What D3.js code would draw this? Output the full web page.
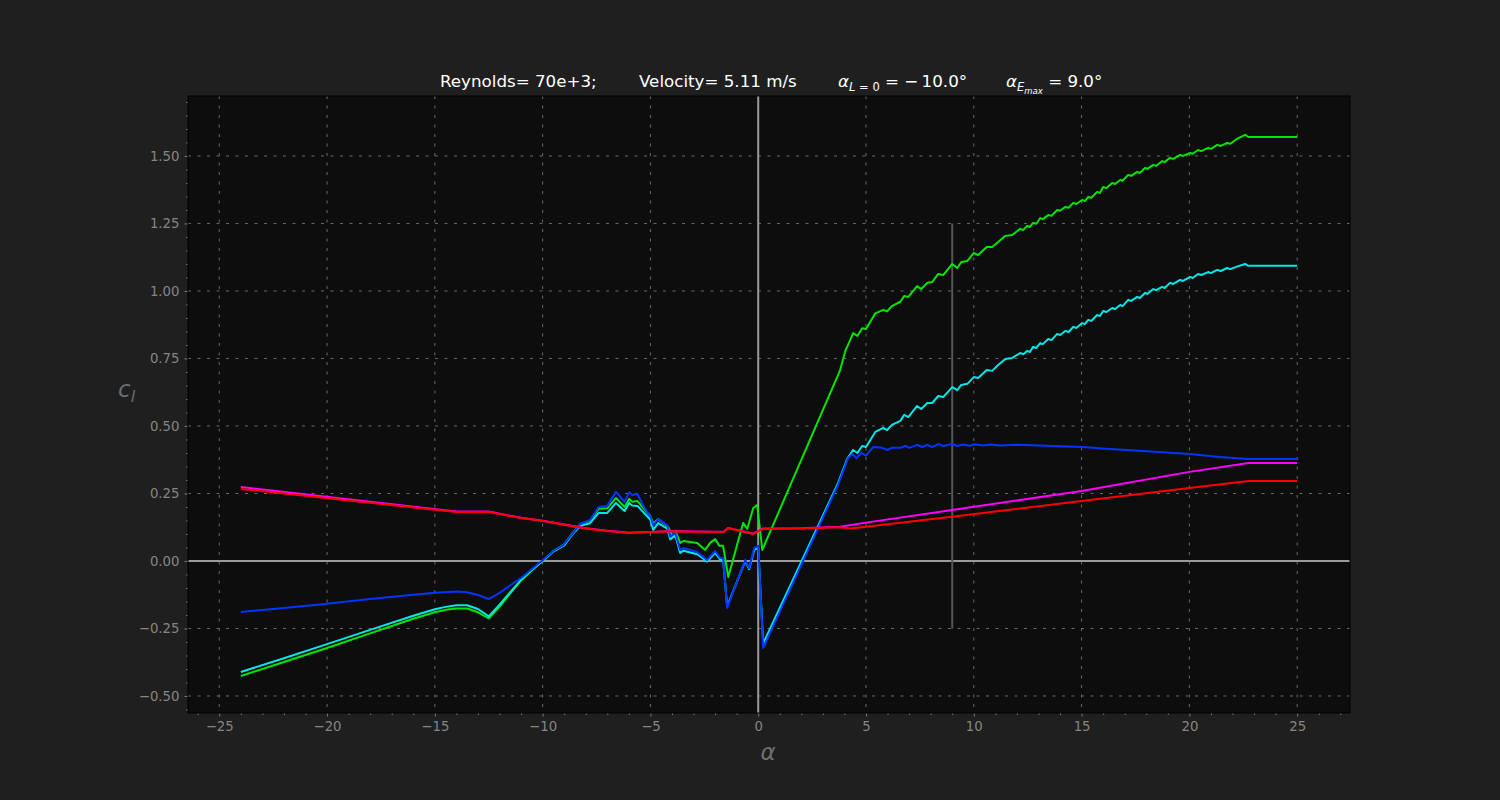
<!DOCTYPE html>
<html>
<head>
<meta charset="utf-8">
<script src="https://cdn.jsdelivr.net/npm/d3@7"></script>
<style>
  body { margin: 0; background: #1f1f1f; }
  text { font-family: "DejaVu Sans", sans-serif; }
</style>
</head>
<body>
<div id="container"></div>
<script>
//DATA
const alphaGreen = [-24, -22, -20, -18, -16, -15, -14.5, -14, -13.5, -13, -12.5, -12, -11.5, -11, -10.5, -10,
  -9.5, -9, -8.6, -8.25, -7.8, -7.4, -7.0, -6.6, -6.2, -5.98, -5.84, -5.6, -5.0, -4.87, -4.64, -4.17, -4.0, -3.8,
  -3.62, -3.47, -2.83, -2.46, -2.23, -2.0, -1.8, -1.63, -1.39, -0.7, -0.51, -0.23, -0.05, 0.19, 3.8, 4.05, 4.27,
  4.4, 4.6, 4.82, 5.0, 5.43, 5.8, 5.98, 6.2, 6.59, 6.77, 6.96, 7.37, 7.56, 7.84, 8.07, 8.35, 8.58, 9.0, 9.23, 9.42,
  9.7, 10.0, 10.2, 10.6, 10.85, 11.13, 11.46, 11.78, 12.15, 12.3, 12.47, 12.6, 12.75, 12.9, 13.08, 13.2, 13.45, 13.6,
  13.87, 14.0, 14.24, 14.4, 14.61, 14.75, 15.03, 15.15, 15.31, 15.45, 15.72, 15.85, 16.0, 16.15, 16.42, 16.55,
  16.79, 16.9, 17.16, 17.3, 17.58, 17.7, 17.95, 18.05, 18.32, 18.45, 18.74, 18.85, 19.1, 19.25, 19.57, 19.7,
  20.04, 20.15, 20.4, 20.55, 20.87, 21.0, 21.29, 21.45, 21.75, 21.9, 22.2, 22.59, 22.73, 25];
const clGreen = [-0.426, -0.374, -0.322, -0.268, -0.214, -0.19, -0.181, -0.176, -0.176, -0.19, -0.213, -0.17, -0.12, -0.072, -0.034, 0.0,
  0.037, 0.062, 0.104, 0.137, 0.15, 0.193, 0.195, 0.233, 0.2, 0.23, 0.219, 0.222, 0.165, 0.14, 0.155, 0.126, 0.096, 0.104,
  0.067, 0.074, 0.067, 0.041, 0.067, 0.081, 0.056, 0.056, -0.059, 0.141, 0.119, 0.196, 0.207, 0.041, 0.707, 0.78, 0.819,
  0.844, 0.833, 0.862, 0.859, 0.917, 0.93, 0.925, 0.944, 0.96, 0.981, 0.978, 1.018, 1.007, 1.03, 1.033, 1.063, 1.059, 1.1, 1.085, 1.107,
  1.111, 1.141, 1.133, 1.163, 1.163, 1.181, 1.204, 1.207, 1.23, 1.226, 1.241, 1.237, 1.252, 1.249, 1.27, 1.266, 1.281, 1.278,
  1.3, 1.297, 1.311, 1.308, 1.326, 1.322, 1.337, 1.333, 1.348, 1.345, 1.367, 1.363, 1.385, 1.381, 1.4, 1.396,
  1.411, 1.408, 1.43, 1.426, 1.441, 1.437, 1.456, 1.452, 1.467, 1.463, 1.481, 1.477, 1.493, 1.489, 1.504, 1.5,
  1.511, 1.508, 1.522, 1.518, 1.53, 1.526, 1.541, 1.537, 1.548, 1.545, 1.563, 1.578, 1.57, 1.57];

const alphaCyan = [-24, -22, -20, -18, -16, -15, -14.5, -14, -13.5, -13, -12.5, -12, -11.5, -11, -10.5, -10,
  -9.5, -9, -8.6, -8.25, -7.8, -7.4, -7.0, -6.6, -6.2, -5.98, -5.84, -5.6, -5.0, -4.87, -4.64, -4.22, -4.08, -3.85,
  -3.62, -3.47, -2.83, -2.37, -2.0, -1.76, -1.63, -1.44, -0.6, -0.42, -0.19, 0, 0.23, 3.7, 4.13, 4.4, 4.6, 4.82, 5.0,
  5.43, 5.8, 5.98, 6.2, 6.59, 6.77, 6.96, 7.37, 7.56, 7.84, 8.07, 8.35, 8.58, 9.0, 9.23, 9.42, 9.7, 10.0, 10.2, 10.6,
  10.85, 11.13, 11.46, 11.78, 12.15, 12.3, 12.47, 12.6, 12.75, 12.9, 13.08, 13.2, 13.45, 13.6,
  13.87, 14.0, 14.24, 14.4, 14.61, 14.75, 15.03, 15.15, 15.31, 15.45, 15.72, 15.85, 16.0, 16.15, 16.42, 16.55,
  16.79, 16.9, 17.16, 17.3, 17.58, 17.7, 17.95, 18.05, 18.32, 18.45, 18.74, 18.85, 19.1, 19.25, 19.57, 19.7,
  20.04, 20.15, 20.4, 20.55, 20.87, 21.0, 21.29, 21.45, 21.75, 21.9, 22.2, 22.59, 22.73, 25];
const clCyan = [-0.411, -0.36, -0.308, -0.255, -0.203, -0.179, -0.17, -0.164, -0.164, -0.178, -0.205, -0.162, -0.115, -0.07, -0.033, 0.0,
  0.035, 0.058, 0.1, 0.13, 0.14, 0.178, 0.178, 0.215, 0.185, 0.215, 0.205, 0.204, 0.152, 0.115, 0.14, 0.12, 0.08, 0.095,
  0.03, 0.038, 0.025, -0.002, 0.03, 0.005, 0.005, -0.168, 0.0, -0.03, 0.04, 0.05, -0.305, 0.288, 0.378, 0.411, 0.4, 0.426, 0.422,
  0.478, 0.493, 0.485, 0.504, 0.519, 0.541, 0.533, 0.574, 0.563, 0.585, 0.585, 0.611, 0.607, 0.644, 0.633, 0.652, 0.656, 0.681, 0.678, 0.707,
  0.704, 0.726, 0.748, 0.752, 0.77, 0.766, 0.778, 0.774, 0.793, 0.789, 0.807, 0.803, 0.822, 0.818,
  0.841, 0.837, 0.852, 0.848, 0.867, 0.863, 0.881, 0.877, 0.893, 0.889, 0.911, 0.907, 0.926, 0.922, 0.937, 0.933,
  0.948, 0.944, 0.967, 0.963, 0.978, 0.974, 0.993, 0.989, 1.007, 1.003, 1.015, 1.011, 1.03, 1.026, 1.041, 1.037,
  1.052, 1.048, 1.063, 1.059, 1.07, 1.066, 1.078, 1.074, 1.085, 1.081, 1.09, 1.1, 1.093, 1.093];

const alphaBlue = [-24, -22, -20, -18, -16, -15, -14, -13.5, -13, -12.5, -12, -11.5, -11, -10.5, -10,
  -9.5, -9.04, -8.58, -8.25, -7.8, -7.4, -7.0, -6.6, -6.2, -5.98, -5.84, -5.6, -5.3, -5.0, -4.87, -4.64, -4.22, -4.08,
  -3.85, -3.62, -3.47, -2.83, -2.37, -2.0, -1.76, -1.63, -1.44, -0.6, -0.42, -0.19, 0, 0.23, 3.7, 4.17, 4.36, 4.55,
  4.78, 5.0, 5.33, 5.75, 5.98, 6.2, 6.59, 6.82, 7.0, 7.37, 7.6, 7.84, 8.07, 8.35, 8.58, 9.0, 9.23, 9.5, 9.8, 10.06,
  10.4, 10.8, 11.2, 12.0, 13.7, 15.03, 16.3, 17.86, 20.04, 21.4, 22.73, 25];
const clBlue = [-0.189, -0.174, -0.158, -0.141, -0.125, -0.118, -0.113, -0.116, -0.126, -0.141, -0.118, -0.09, -0.063, -0.03, 0.003,
  0.037, 0.059, 0.104, 0.137, 0.152, 0.2, 0.204, 0.256, 0.219, 0.255, 0.244, 0.248, 0.2, 0.165, 0.133, 0.155, 0.133, 0.09,
  0.104, 0.041, 0.048, 0.033, 0.004, 0.037, 0.011, 0.011, -0.174, 0.004, -0.026, 0.048, 0.056, -0.322, 0.281, 0.381, 0.396, 0.381,
  0.4, 0.39, 0.422, 0.419, 0.411, 0.419, 0.419, 0.426, 0.419, 0.43, 0.422, 0.43, 0.422, 0.433, 0.426, 0.433, 0.426, 0.431, 0.427, 0.432,
  0.428, 0.431, 0.428, 0.43, 0.426, 0.422, 0.415, 0.407, 0.396, 0.385, 0.378, 0.378];

const alphaMagenta = [-24, -14, -12.5, -11, -10, -9, -8, -7, -6, -5, -4, -3, -2, -1.6, -1.4, -0.23, 0.2, 2, 3.8, 5, 9, 15, 20, 22.75, 25];
const clMagenta = [0.274, 0.183, 0.183, 0.16, 0.149, 0.135, 0.121, 0.112, 0.105, 0.107, 0.111, 0.109, 0.108, 0.108, 0.122, 0.101, 0.12, 0.121, 0.127, 0.142, 0.189, 0.259, 0.33, 0.363, 0.363];

const alphaRed = [-24, -14, -12.5, -11, -10, -9, -8, -7, -6, -5, -4, -3, -2, -1.6, -1.4, -0.23, 0.2, 2, 3.8, 4.3, 9, 15, 20, 22.75, 25];
const clRed = [0.267, 0.181, 0.181, 0.159, 0.148, 0.134, 0.12, 0.111, 0.104, 0.107, 0.11, 0.108, 0.107, 0.107, 0.122, 0.1, 0.118, 0.12, 0.125, 0.12, 0.164, 0.222, 0.27, 0.296, 0.296];

const xTicks = [-25, -20, -15, -10, -5, 0, 5, 10, 15, 20, 25];
const yTicks = [-0.5, -0.25, 0, 0.25, 0.5, 0.75, 1.0, 1.25, 1.5];
const alphaEmax = 9.0;
const emaxRange = [-0.25, 1.25];

//VARIABLES
const width = 1500,
  height = 800,
  margin = { top: 96, bottom: 87, left: 188, right: 150 };

const series = [
  { a: alphaGreen, c: clGreen, color: "#00e600" },
  { a: alphaCyan, c: clCyan, color: "#00e8e8" },
  { a: alphaBlue, c: clBlue, color: "#0035ff" },
  { a: alphaMagenta, c: clMagenta, color: "#ff00ff" },
  { a: alphaRed, c: clRed, color: "#ff0000" }
];

const svg = d3.select("#container")
  .append("svg")
  .attr("width", width)
  .attr("height", height);

svg.append("rect").attr("width", width).attr("height", height).attr("fill", "#1f1f1f");

// SCALES
const xScale = d3.scaleLinear()
  .domain([-26.45, 27.45])
  .range([margin.left, width - margin.right]);

const yScale = d3.scaleLinear()
  .domain([-0.563, 1.722])
  .range([height - margin.bottom, margin.top]);

// plot area
svg.append("rect")
  .attr("x", margin.left)
  .attr("y", margin.top)
  .attr("width", width - margin.left - margin.right)
  .attr("height", height - margin.top - margin.bottom)
  .attr("fill", "#0d0d0d");

// grid
const grid = svg.append("g").attr("stroke", "#6a6a6a").attr("stroke-width", 1).attr("stroke-dasharray", "3,6.5");
grid.selectAll(".gx").data(xTicks).join("line")
  .attr("x1", d => xScale(d)).attr("x2", d => xScale(d))
  .attr("y1", margin.top).attr("y2", height - margin.bottom);
grid.selectAll(".gy").data(yTicks).join("line")
  .attr("y1", d => yScale(d)).attr("y2", d => yScale(d))
  .attr("x1", margin.left).attr("x2", width - margin.right);

// zero lines
svg.append("line")
  .attr("x1", margin.left).attr("x2", width - margin.right)
  .attr("y1", yScale(0)).attr("y2", yScale(0))
  .attr("stroke", "#9a9a9a").attr("stroke-width", 2);
svg.append("line")
  .attr("x1", xScale(0)).attr("x2", xScale(0))
  .attr("y1", margin.top).attr("y2", height - margin.bottom)
  .attr("stroke", "#9a9a9a").attr("stroke-width", 2);

// alpha at max efficiency
svg.append("line")
  .attr("x1", xScale(alphaEmax)).attr("x2", xScale(alphaEmax))
  .attr("y1", yScale(emaxRange[0])).attr("y2", yScale(emaxRange[1]))
  .attr("stroke", "#555").attr("stroke-width", 2);

// LINES
const line = d3.line()
  .x(d => xScale(d[0]))
  .y(d => yScale(d[1]));

svg.selectAll(".curve")
  .data(series)
  .join("path")
  .attr("class", "curve")
  .attr("d", s => line(s.a.map((a, i) => [a, s.c[i]])))
  .attr("fill", "none")
  .attr("stroke", s => s.color)
  .attr("stroke-width", 2)
  .attr("stroke-linejoin", "round");

// AXES
const fmt = d => d3.format(".2f")(d).replace("-", "\u2212");
const xAxis = d3.axisBottom(xScale).tickValues(xTicks).tickSize(3.5).tickPadding(5)
  .tickFormat(d => String(d).replace("-", "\u2212"));
const yAxis = d3.axisLeft(yScale).tickValues(yTicks).tickSize(3.5).tickPadding(5).tickFormat(fmt);

const xMinor = d3.range(-26, 28, 1).filter(d => d % 5 !== 0);
const yMinor = d3.range(-55, 172, 5).map(d => d / 100).filter(d => Math.round(d * 100) % 25 !== 0);

svg.append("g")
  .attr("transform", `translate(0,${height - margin.bottom})`)
  .call(xAxis);
svg.append("g")
  .attr("transform", `translate(0,${height - margin.bottom})`)
  .call(d3.axisBottom(xScale).tickValues(xMinor).tickSize(2).tickFormat(""));

svg.append("g")
  .attr("transform", `translate(${margin.left},0)`)
  .call(yAxis);
svg.append("g")
  .attr("transform", `translate(${margin.left},0)`)
  .call(d3.axisLeft(yScale).tickValues(yMinor).tickSize(2).tickFormat(""));

svg.selectAll(".tick line").attr("stroke", "#7a7a7a");
svg.selectAll(".tick text").attr("fill", "#858585").style("font-size", "13.3px").style("font-family", "DejaVu Sans");
svg.selectAll(".domain").remove();

// frame
svg.append("rect")
  .attr("x", margin.left)
  .attr("y", margin.top)
  .attr("width", width - margin.left - margin.right)
  .attr("height", height - margin.top - margin.bottom)
  .attr("fill", "none")
  .attr("stroke", "#000");

// AXIS LABELS
svg.append("text")
  .attr("x", 768).attr("y", 760)
  .attr("text-anchor", "middle")
  .attr("fill", "#6e6e6e")
  .style("font-size", "23px").style("font-style", "italic")
  .text("α");

const yl = svg.append("text")
  .attr("x", 118).attr("y", 397)
  .attr("fill", "#6e6e6e")
  .style("font-size", "23px");
yl.append("tspan").style("font-style", "italic").text("c");
yl.append("tspan").attr("dy", 5).style("font-size", "16px").style("font-style", "italic").text("l");

// TITLE
const ty = 87;
const fs = "16.7px";
svg.append("text").attr("x", 440).attr("y", ty).attr("fill", "#fff").style("font-size", fs).text("Reynolds= 70e+3;");
svg.append("text").attr("x", 639).attr("y", ty).attr("fill", "#fff").style("font-size", fs).text("Velocity= 5.11 m/s");

const t3 = svg.append("text").attr("x", 838).attr("y", ty).attr("fill", "#fff").style("font-size", fs);
t3.append("tspan").style("font-style", "italic").text("α");
t3.append("tspan").attr("dy", 4).style("font-size", "11.5px").style("font-style", "italic").text("L");
t3.append("tspan").style("font-size", "11.5px").text(" = 0");
t3.append("tspan").attr("dy", -4).text(" = \u2212\u200910.0°");

const t4 = svg.append("text").attr("x", 1006).attr("y", ty).attr("fill", "#fff").style("font-size", fs);
t4.append("tspan").style("font-style", "italic").text("α");
t4.append("tspan").attr("dy", 4).style("font-size", "11.5px").style("font-style", "italic").text("E");
t4.append("tspan").attr("dy", 3).style("font-size", "8.5px").style("font-style", "italic").text("max");
t4.append("tspan").attr("dy", -7).text(" = 9.0°");
</script>
</body>
</html>
